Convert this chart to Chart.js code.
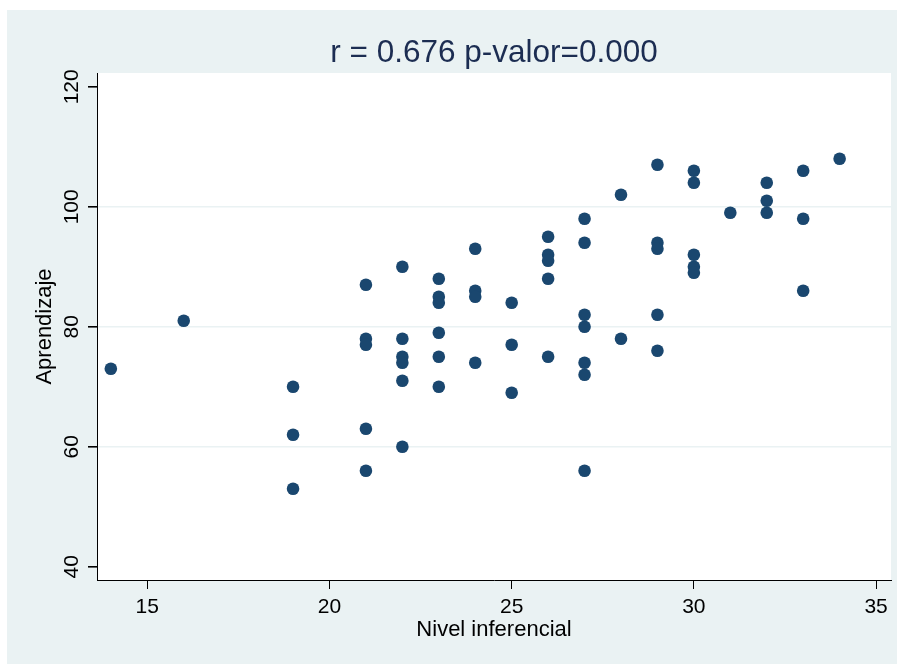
<!DOCTYPE html>
<html>
<head>
<meta charset="utf-8">
<script src="https://cdn.jsdelivr.net/npm/chart.js@4.4.0/dist/chart.umd.min.js"></script>
<style>
  html, body { margin: 0; padding: 0; background: #ffffff; }
  #wrap { width: 899px; height: 664px; }
  canvas { display: block; }
</style>
</head>
<body>
<div id="wrap"><canvas id="graficoDispersion"></canvas></div>
<script>
// Nivel inferencial (x) y Aprendizaje (y), un punto por estudiante
const nivelInferencial = [
  14, 16,
  19, 19, 19,
  21, 21, 21, 21, 21,
  22, 22, 22, 22, 22, 22,
  23, 23, 23, 23, 23, 23,
  24, 24, 24, 24,
  25, 25, 25,
  26, 26, 26, 26, 26,
  27, 27, 27, 27, 27, 27, 27,
  28, 28,
  29, 29, 29, 29, 29,
  30, 30, 30, 30, 30,
  31,
  32, 32, 32,
  33, 33, 33,
  34
];
const aprendizaje = [
  73, 81,
  70, 62, 53,
  87, 78, 77, 63, 56,
  90, 78, 75, 74, 71, 60,
  88, 85, 84, 79, 75, 70,
  93, 86, 85, 74,
  84, 77, 69,
  95, 92, 91, 88, 75,
  98, 94, 82, 80, 74, 72, 56,
  102, 78,
  107, 94, 93, 82, 76,
  106, 104, 92, 90, 89,
  99,
  104, 101, 99,
  106, 98, 86,
  108
];
const ticksX = [15, 20, 25, 30, 35];
const ticksY = [40, 60, 80, 100, 120];
const titulo = 'r = 0.676 p-valor=0.000';

const fondo = {
  id: 'fondo',
  beforeDraw(chart) {
    const { ctx, chartArea } = chart;
    ctx.save();
    ctx.fillStyle = '#eaf2f3';
    ctx.fillRect(7, 10, chart.width - 9, chart.height - 10);
    ctx.fillStyle = '#ffffff';
    ctx.fillRect(chartArea.left, chartArea.top, chartArea.right - chartArea.left, chartArea.bottom - chartArea.top);
    ctx.restore();
  }
};

Chart.defaults.font.family = '"Liberation Sans", Arial, sans-serif';
Chart.defaults.color = '#000000';

const ctx = document.getElementById('graficoDispersion').getContext('2d');
new Chart(ctx, {
  type: 'scatter',
  data: {
    datasets: [{
      label: 'Aprendizaje',
      data: nivelInferencial.map((x, i) => ({ x: x, y: aprendizaje[i] })),
      backgroundColor: '#1a476f',
      borderWidth: 0,
      pointRadius: 6.3,
      pointHoverRadius: 6.3
    }]
  },
  options: {
    responsive: true,
    maintainAspectRatio: false,
    animation: false,
    layout: { padding: { left: 7, top: 10, right: 8, bottom: 0 } },
    plugins: {
      legend: { display: false },
      tooltip: { enabled: false },
      title: {
        display: true,
        text: titulo,
        fullSize: false,
        color: '#1c2d52',
        font: { size: 31.5, weight: 'normal' },
        padding: { top: 24, bottom: 1.2 }
      }
    },
    scales: {
      x: {
        type: 'linear',
        min: 13.62,
        max: 35.41,
        afterBuildTicks: s => { s.ticks = ticksX.map(v => ({ value: v })); },
        afterFit: s => { s.height = 84; },
        border: { color: '#000000', width: 1 },
        grid: { drawOnChartArea: false, tickLength: 9, tickColor: '#000000' },
        ticks: { font: { size: 21 }, padding: 5.4, maxRotation: 0 },
        title: {
          display: true,
          text: 'Nivel inferencial',
          font: { size: 22 },
          padding: { top: 0, bottom: 20.8 }
        }
      },
      y: {
        type: 'linear',
        min: 37.8,
        max: 122.3,
        afterBuildTicks: s => { s.ticks = ticksY.map(v => ({ value: v })); },
        afterFit: s => { s.width = 90; },
        border: { color: '#000000', width: 1 },
        grid: {
          color: c => (c.tick && (c.tick.value === 40 || c.tick.value === 120)) ? 'rgba(0,0,0,0)' : '#eaf2f3',
          lineWidth: 1.6,
          tickLength: 9,
          tickColor: '#000000'
        },
        ticks: { font: { size: 21 }, padding: -1.5, minRotation: 90, maxRotation: 90, crossAlign: 'center' },
        title: {
          display: true,
          text: 'Aprendizaje',
          font: { size: 22 },
          padding: { top: 24.8, bottom: 0 }
        }
      }
    }
  },
  plugins: [fondo]
});
</script>
</body>
</html>
